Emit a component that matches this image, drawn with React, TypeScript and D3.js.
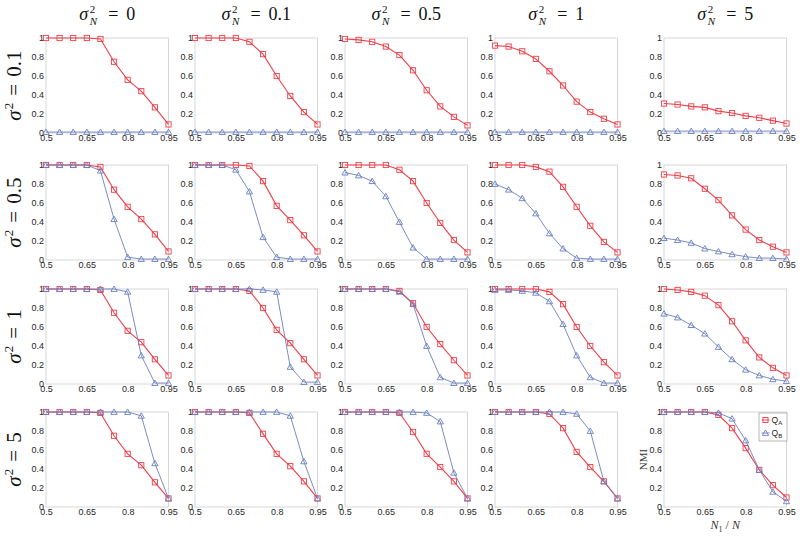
import React, { useEffect, useRef } from "react";
import * as d3 from "d3";

// N1/N values on the x axis
const xValues = [0.5, 0.55, 0.6, 0.65, 0.7, 0.75, 0.8, 0.85, 0.9, 0.95];
const xTicks = [0.5, 0.65, 0.8, 0.95];
const yTicks = [0, 0.2, 0.4, 0.6, 0.8, 1];
const noiseLabels = ["0", "0.1", "0.5", "1", "5"]; // sigma_N^2 (columns)
const sigmaLabels = ["0.1", "0.5", "1", "5"]; // sigma^2 (rows)

// Q_A, one array per column (sigma_N^2 = 0, 0.1, 0.5, 1, 5)
const qaSigma01 = [
  [1, 1, 1, 1, 0.99, 0.75, 0.56, 0.44, 0.27, 0.09],
  [1, 1, 1, 1, 0.96, 0.83, 0.6, 0.39, 0.22, 0.09],
  [0.99, 0.98, 0.96, 0.91, 0.82, 0.66, 0.45, 0.28, 0.17, 0.08],
  [0.92, 0.91, 0.86, 0.78, 0.65, 0.5, 0.33, 0.22, 0.15, 0.09],
  [0.31, 0.3, 0.28, 0.27, 0.23, 0.21, 0.18, 0.16, 0.13, 0.1],
];
const qaSigma05 = [
  [1, 1, 1, 1, 0.98, 0.74, 0.56, 0.43, 0.27, 0.09],
  [1, 1, 1, 1, 0.99, 0.83, 0.57, 0.42, 0.26, 0.09],
  [1, 1, 1, 1, 0.95, 0.83, 0.6, 0.39, 0.21, 0.08],
  [1, 1, 1, 0.98, 0.93, 0.77, 0.56, 0.36, 0.19, 0.08],
  [0.9, 0.89, 0.86, 0.75, 0.63, 0.47, 0.32, 0.21, 0.14, 0.08],
];
const qaSigma1 = [
  [1, 1, 1, 1, 0.99, 0.75, 0.56, 0.44, 0.26, 0.09],
  [1, 1, 1, 1, 0.98, 0.8, 0.57, 0.43, 0.26, 0.09],
  [1, 1, 1, 1, 0.98, 0.85, 0.6, 0.42, 0.25, 0.09],
  [1, 1, 1, 1, 0.97, 0.84, 0.6, 0.4, 0.23, 0.09],
  [1, 0.99, 0.97, 0.93, 0.83, 0.66, 0.46, 0.28, 0.17, 0.09],
];
const qaSigma5 = [
  [1, 1, 1, 1, 0.99, 0.75, 0.56, 0.44, 0.26, 0.09],
  [1, 1, 1, 1, 0.99, 0.77, 0.56, 0.43, 0.27, 0.09],
  [1, 1, 1, 1, 0.99, 0.79, 0.56, 0.42, 0.27, 0.09],
  [1, 1, 1, 1, 0.98, 0.83, 0.58, 0.42, 0.27, 0.09],
  [1, 1, 1, 1, 0.97, 0.83, 0.62, 0.39, 0.23, 0.1],
];

// Q_B, same layout
const qbSigma01 = [
  [0.01, 0.01, 0.01, 0.01, 0.01, 0.01, 0.01, 0.01, 0.01, 0.01],
  [0.01, 0.01, 0.01, 0.01, 0.01, 0.01, 0.01, 0.01, 0.01, 0.01],
  [0.01, 0.01, 0.01, 0.01, 0.01, 0.01, 0.01, 0.01, 0.01, 0.01],
  [0.01, 0.01, 0.01, 0.01, 0.01, 0.01, 0.01, 0.01, 0.01, 0.01],
  [0.02, 0.02, 0.02, 0.02, 0.02, 0.02, 0.02, 0.02, 0.02, 0.02],
];
const qbSigma05 = [
  [1, 1, 1, 1, 0.94, 0.43, 0.03, 0.01, 0.01, 0.01],
  [1, 1, 1, 0.95, 0.72, 0.24, 0.03, 0.01, 0.01, 0.01],
  [0.92, 0.89, 0.83, 0.67, 0.4, 0.13, 0.01, 0.01, 0.01, 0.01],
  [0.8, 0.74, 0.65, 0.49, 0.28, 0.12, 0.02, 0.01, 0.01, 0.01],
  [0.23, 0.21, 0.18, 0.12, 0.09, 0.06, 0.035, 0.02, 0.02, 0.01],
];
const qbSigma1 = [
  [1, 1, 1, 1, 1, 1, 0.97, 0.3, 0.01, 0.01],
  [1, 1, 1, 1, 1, 0.99, 0.97, 0.18, 0.02, 0.02],
  [1, 1, 1, 1, 0.97, 0.84, 0.4, 0.07, 0.01, 0.01],
  [0.99, 0.99, 0.98, 0.96, 0.87, 0.63, 0.3, 0.07, 0.01, 0.01],
  [0.74, 0.7, 0.62, 0.53, 0.39, 0.26, 0.15, 0.09, 0.05, 0.03],
];
const qbSigma5 = [
  [1, 1, 1, 1, 1, 1, 1, 0.96, 0.46, 0.09],
  [1, 1, 1, 1, 1, 1, 1, 0.96, 0.48, 0.09],
  [1, 1, 1, 1, 1, 1, 0.99, 0.9, 0.36, 0.09],
  [1, 1, 1, 1, 1, 1, 0.98, 0.8, 0.27, 0.09],
  [1, 1, 1, 1, 0.99, 0.93, 0.7, 0.39, 0.16, 0.06],
];

const qaRows = [qaSigma01, qaSigma05, qaSigma1, qaSigma5];
const qbRows = [qbSigma01, qbSigma05, qbSigma1, qbSigma5];

const RED = "#ee3f49";
const BLUE = "#6a7fc0";
const SERIF = "Liberation Serif, Times New Roman, serif";
const SANS = "Liberation Sans, Arial, sans-serif";

const App = () => {
  const svgRef = useRef<SVGSVGElement>(null);

  useEffect(() => {
    const width = 800, height = 537;
    const colLeft = [46, 195, 345, 495, 664];
    const rowTop = [38, 165, 289, 412];
    const panelW = 122.5, panelH = 95;

    const svg = d3.select(svgRef.current)
      .attr("width", width)
      .attr("height", height);

    svg.selectAll("*").remove();
    svg.append("rect").attr("width", width).attr("height", height).attr("fill", "white");

    const x = d3.scaleLinear().domain([0.5, 0.95]).range([0, panelW]);
    const y = d3.scaleLinear().domain([0, 1]).range([panelH, 0]);
    const line = d3.line<number>()
      .x((d, i) => x(xValues[i]))
      .y(d => y(d));
    const tri = d3.symbol().type(d3.symbolTriangle).size(17);

    const drawSeries = (g, values, color, kind, lw) => {
      g.append("path")
        .attr("d", line(values))
        .attr("fill", "none")
        .attr("stroke", color)
        .attr("stroke-width", lw);
      if (kind === "square") {
        g.selectAll(null)
          .data(values)
          .enter()
          .append("rect")
          .attr("x", (d, i) => x(xValues[i]) - 2.6)
          .attr("y", d => y(d) - 2.6)
          .attr("width", 5.2)
          .attr("height", 5.2)
          .attr("fill", "none")
          .attr("stroke", color)
          .attr("stroke-width", 0.9);
      } else {
        g.selectAll(null)
          .data(values)
          .enter()
          .append("path")
          .attr("d", tri())
          .attr("transform", (d, i) => `translate(${x(xValues[i])},${y(d) + 0.6})`)
          .attr("fill", "none")
          .attr("stroke", color)
          .attr("stroke-width", 0.9);
      }
    };

    qaRows.forEach((row, r) => {
      row.forEach((qa, c) => {
        const qb = qbRows[r][c];
        const g = svg.append("g")
          .attr("transform", `translate(${colLeft[c]},${rowTop[r]})`);

        g.append("rect")
          .attr("width", panelW)
          .attr("height", panelH)
          .attr("fill", "white")
          .attr("stroke", "#cdcdcd")
          .attr("stroke-width", 0.8);

        const xAxis = d3.axisBottom(x)
          .tickValues(xTicks)
          .tickFormat(d => String(d))
          .tickSize(0)
          .tickPadding(1.5);
        const yAxis = d3.axisLeft(y)
          .tickValues(yTicks)
          .tickFormat(d => String(d))
          .tickSize(0)
          .tickPadding(2);

        [g.append("g").attr("transform", `translate(0,${panelH})`).call(xAxis),
         g.append("g").call(yAxis)].forEach(ax => {
          ax.attr("font-family", SANS).attr("font-size", 9);
          ax.select(".domain").remove();
          ax.selectAll("text").attr("fill", "#262626");
        });

        drawSeries(g, qa, RED, "square", 1.1);
        drawSeries(g, qb, BLUE, "triangle", 0.9);
      });
    });

    // column titles: sigma_N^2 = v
    noiseLabels.forEach((lab, c) => {
      const t = svg.append("g").attr("font-family", SERIF).attr("fill", "#111");
      t.append("text").attr("x", 0).attr("y", 0).attr("font-style", "italic").attr("font-size", 18).text("σ");
      t.append("text").attr("x", 10.5).attr("y", -7).attr("font-size", 11).text("2");
      t.append("text").attr("x", 10.5).attr("y", 4.5).attr("font-style", "italic").attr("font-size", 11).text("N");
      t.append("text").attr("x", 29).attr("y", 0).attr("font-size", 18).text("=");
      t.append("text").attr("x", 47).attr("y", 0).attr("font-size", 18).text(lab);
      const bb = (t.node() as SVGGElement).getBBox();
      const cx = colLeft[c] + panelW / 2;
      t.attr("transform", `translate(${cx - bb.width / 2 - bb.x},20)`);
    });

    // row titles: sigma^2 = v, rotated
    sigmaLabels.forEach((lab, r) => {
      const outer = svg.append("g").attr("font-family", SERIF).attr("fill", "#111");
      const t = outer.append("g");
      t.append("text").attr("x", 0).attr("y", 0).attr("font-style", "italic").attr("font-size", 21).text("σ");
      t.append("text").attr("x", 11.5).attr("y", -8.5).attr("font-size", 13).text("2");
      t.append("text").attr("x", 25).attr("y", 0).attr("font-size", 21).text("=");
      t.append("text").attr("x", 44).attr("y", 0).attr("font-size", 21).text(lab);
      const bb = (t.node() as SVGGElement).getBBox();
      const cy = rowTop[r] + panelH / 2;
      outer.attr("transform", `translate(21,${cy}) rotate(-90)`);
      t.attr("transform", `translate(${-bb.width / 2 - bb.x},0)`);
    });

    // y label of the last panel
    svg.append("text")
      .attr("transform", `translate(647,${rowTop[3] + panelH / 2}) rotate(-90)`)
      .attr("text-anchor", "middle")
      .attr("font-family", SERIF)
      .attr("font-size", 11)
      .attr("fill", "#333")
      .text("NMI");

    // x label of the last panel
    const xl = svg.append("text")
      .attr("x", colLeft[4] + panelW / 2)
      .attr("y", 529)
      .attr("text-anchor", "middle")
      .attr("fill", "#333")
      .attr("font-family", SERIF)
      .attr("font-size", 12);
    xl.append("tspan").attr("font-style", "italic").text("N");
    xl.append("tspan").attr("dy", 2.5).attr("font-size", 8).text("1");
    xl.append("tspan").attr("dy", -2.5).text(" / ");
    xl.append("tspan").attr("font-style", "italic").text("N");

    // legend
    const lg = svg.append("g").attr("transform", "translate(759,413)");
    lg.append("rect")
      .attr("width", 28)
      .attr("height", 28)
      .attr("fill", "white")
      .attr("stroke", "#8a8a8a")
      .attr("stroke-width", 0.6);
    [["A", RED, "square"], ["B", BLUE, "triangle"]].forEach(([sub, color, kind], i) => {
      const ly = 7 + i * 13;
      lg.append("line")
        .attr("x1", 2.5).attr("x2", 10.5)
        .attr("y1", ly).attr("y2", ly)
        .attr("stroke", color)
        .attr("stroke-width", 0.9);
      if (kind === "square") {
        lg.append("rect")
          .attr("x", 4).attr("y", ly - 2.5)
          .attr("width", 5).attr("height", 5)
          .attr("fill", "none").attr("stroke", color).attr("stroke-width", 0.9);
      } else {
        lg.append("path")
          .attr("d", tri())
          .attr("transform", `translate(6.5,${ly + 0.6})`)
          .attr("fill", "none").attr("stroke", color).attr("stroke-width", 0.9);
      }
      const lt = lg.append("text")
        .attr("x", 12.5)
        .attr("y", ly + 3)
        .attr("fill", "#222")
        .attr("font-family", SANS)
        .attr("font-size", 8.5);
      lt.append("tspan").text("Q");
      lt.append("tspan").attr("dy", 2).attr("font-size", 6).text(sub);
    });
  }, []);

  return <svg ref={svgRef} style={{ position: "absolute", left: 0, top: 0 }}></svg>;
};

export default App;
